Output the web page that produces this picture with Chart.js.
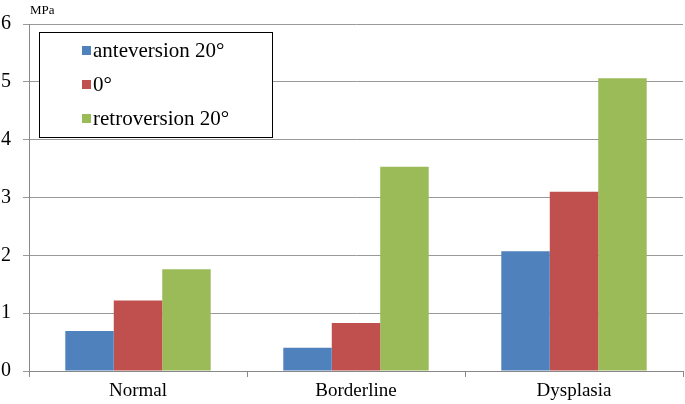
<!DOCTYPE html>
<html>
<head>
<meta charset="utf-8">
<script src="https://cdn.jsdelivr.net/npm/chart.js@4"></script>
<style>
  html, body { margin: 0; padding: 0; background: #fff; }
  #wrap { width: 685px; height: 404px; }
</style>
</head>
<body>
<div id="wrap"><canvas id="pressureChart"></canvas></div>
<script>
// data
const categories = ["Normal", "Borderline", "Dysplasia"];
const anteversion = [0.69, 0.40, 2.07];
const neutral = [1.22, 0.83, 3.10];
const retroversion = [1.76, 3.53, 5.06];
const yTicks = [0, 1, 2, 3, 4, 5, 6];

const serif = "'Liberation Serif', 'DejaVu Serif', serif";

// legend in a framed box + unit label
const boxLegend = {
    id: "boxLegend",
    afterDraw(chart) {
        const ctx = chart.ctx;
        ctx.save();
        ctx.fillStyle = "#000";
        ctx.font = "13px " + serif;
        ctx.textBaseline = "middle";
        ctx.fillText("MPa", 30, 11);

        ctx.fillStyle = "#fff";
        ctx.fillRect(39.5, 32.5, 233, 105);
        ctx.strokeStyle = "#000";
        ctx.lineWidth = 1;
        ctx.strokeRect(39.5, 32.5, 233, 105);

        ctx.font = "21px " + serif;
        chart.data.datasets.forEach((ds, i) => {
            const y = 50 + i * 34;
            ctx.fillStyle = ds.backgroundColor;
            ctx.fillRect(82, y - 4, 9, 9);
            ctx.fillStyle = "#000";
            ctx.fillText(ds.label, 93, y + 1);
        });
        ctx.restore();
    }
};

new Chart(document.getElementById("pressureChart"), {

    type: "bar",

    data: {
        labels: categories,
        datasets: [
            { label: "anteversion 20°", data: anteversion, backgroundColor: "#4F81BD" },
            { label: "0°", data: neutral, backgroundColor: "#C0504D" },
            { label: "retroversion 20°", data: retroversion, backgroundColor: "#9BBB59" }
        ]
    },

    options: {
        responsive: true,
        maintainAspectRatio: false,
        animation: false,
        layout: { padding: { top: 23, right: 2, left: 0, bottom: 0 } },
        datasets: {
            bar: { categoryPercentage: 0.667, barPercentage: 1.0 }
        },
        plugins: {
            legend: { display: false },
            tooltip: { enabled: false }
        },
        scales: {
            x: {
                grid: {
                    offset: true,
                    drawOnChartArea: false,
                    drawTicks: true,
                    tickLength: 6,
                    color: "#888"
                },
                border: { color: "#888" },
                ticks: {
                    color: "#000",
                    padding: 3,
                    font: { family: serif, size: 19 }
                },
                afterFit(scale) { scale.height = 33; }
            },
            y: {
                min: 0,
                max: 6,
                afterBuildTicks(scale) {
                    scale.ticks = yTicks.map(v => ({ value: v }));
                },
                grid: {
                    color: "#999",
                    tickLength: 6
                },
                border: { color: "#888" },
                ticks: {
                    color: "#000",
                    padding: 12,
                    font: { family: serif, size: 20 }
                },
                afterFit(scale) { scale.width = 29; }
            }
        }
    },

    plugins: [boxLegend]
});
</script>
</body>
</html>
